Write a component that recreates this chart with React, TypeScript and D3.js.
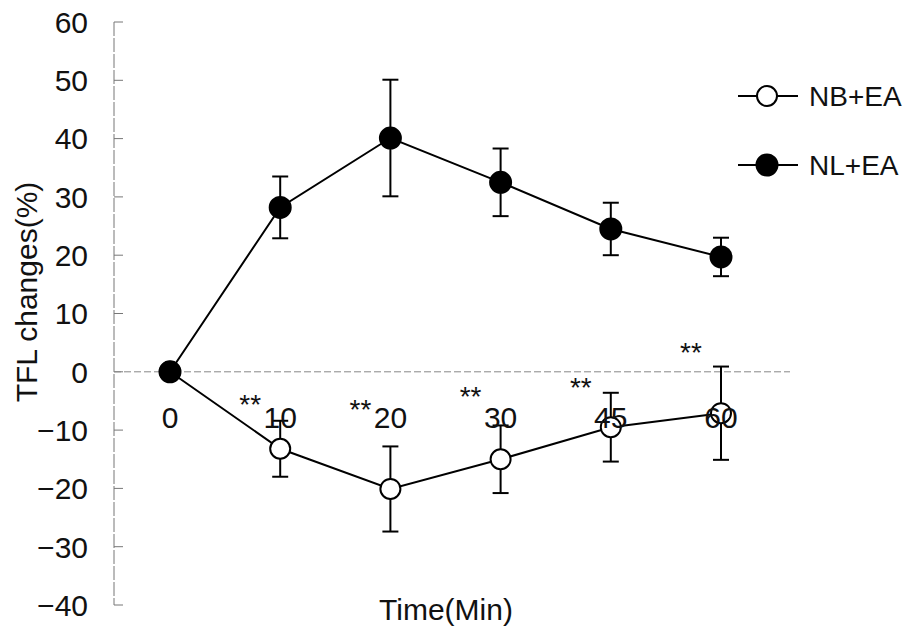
import * as d3 from 'd3';
import React from 'react';
import { useEffect, useRef } from 'react';

// time points (categorical on the x axis)
const times = ['0', '10', '20', '30', '45', '60'];

// NB+EA (open circles)
const nbMean = [0, -13.2, -20.1, -15.0, -9.5, -7.1];
const nbErr = [0, 4.8, 7.3, 5.8, 5.9, 8.0];

// NL+EA (filled circles)
const nlMean = [0, 28.2, 40.1, 32.5, 24.5, 19.7];
const nlErr = [0, 5.3, 10.0, 5.8, 4.5, 3.3];

// significance marks, placed just left of each time point
const starTimes = ['10', '20', '30', '45', '60'];
const starLevels = [-4.5, -5.4, -3.1, -1.6, 4.4];

const yTicks = [60, 50, 40, 30, 20, 10, 0, -10, -20, -30, -40];

const FONT = '"Liberation Sans", Arial, sans-serif';

export default function App() {
    const ref = useRef<any>();

    useEffect(() => {
        const svg = d3.select<any, any>(ref.current);
        svg.selectAll('*').remove();

        const xScale = d3.scalePoint<string>().domain(times).range([170, 721]);
        const yScale = d3.scaleLinear().domain([-40, 60]).range([605, 22]);
        const axisX = 114;

        //y axis line + ticks
        svg.append('line')
            .attr('x1', axisX).attr('x2', axisX)
            .attr('y1', yScale(60)).attr('y2', yScale(-40))
            .attr('stroke', '#777').attr('stroke-width', 1)
            .attr('stroke-dasharray', '14,2');

        svg.selectAll('.ytick').data(yTicks).join('line')
            .attr('class', 'ytick')
            .attr('x1', axisX).attr('x2', axisX + 9)
            .attr('y1', (d: any) => yScale(d)).attr('y2', (d: any) => yScale(d))
            .attr('stroke', '#777').attr('stroke-width', 1);

        svg.selectAll('.ylabel').data(yTicks).join('text')
            .attr('class', 'ylabel')
            .attr('x', 88)
            .attr('y', (d: any) => yScale(d))
            .attr('dy', '0.36em')
            .attr('text-anchor', 'end')
            .attr('font-family', FONT)
            .attr('font-size', 30)
            .attr('fill', '#111')
            .text((d: any) => (d < 0 ? '\u2212' + Math.abs(d) : String(d)));

        //zero line
        svg.append('line')
            .attr('x1', axisX).attr('x2', 790)
            .attr('y1', yScale(0)).attr('y2', yScale(0))
            .attr('stroke', '#888').attr('stroke-width', 1)
            .attr('stroke-dasharray', '7,3');

        const line = d3.line<number>()
            .x((d, i) => xScale(times[i]) as number)
            .y((d) => yScale(d));

        const drawSeries = (mean: number[], err: number[]) => {
            svg.append('path')
                .attr('d', line(mean) as string)
                .attr('fill', 'none')
                .attr('stroke', '#000')
                .attr('stroke-width', 2);

            const idx = d3.range(mean.length).filter((i) => err[i] > 0);
            const g = svg.append('g');
            idx.forEach((i) => {
                const x = xScale(times[i]) as number;
                const top = yScale(mean[i] + err[i]);
                const bot = yScale(mean[i] - err[i]);
                g.append('line').attr('x1', x).attr('x2', x).attr('y1', top).attr('y2', bot)
                    .attr('stroke', '#000').attr('stroke-width', 2);
                g.append('line').attr('x1', x - 8).attr('x2', x + 8).attr('y1', top).attr('y2', top)
                    .attr('stroke', '#000').attr('stroke-width', 2);
                g.append('line').attr('x1', x - 8).attr('x2', x + 8).attr('y1', bot).attr('y2', bot)
                    .attr('stroke', '#000').attr('stroke-width', 2);
            });
        };

        const drawMarkers = (mean: number[], filled: boolean) => {
            svg.append('g').selectAll('circle').data(mean).join('circle')
                .attr('cx', (d: any, i: number) => xScale(times[i]) as number)
                .attr('cy', (d: any) => yScale(d))
                .attr('r', filled ? 10.5 : 10)
                .attr('fill', filled ? '#000' : '#fff')
                .attr('stroke', '#000')
                .attr('stroke-width', 2);
        };

        drawSeries(nbMean, nbErr);
        drawSeries(nlMean, nlErr);
        drawMarkers(nbMean, false);
        drawMarkers(nlMean, true);

        //significance stars
        svg.selectAll('.star').data(starTimes).join('text')
            .attr('class', 'star')
            .attr('x', (d: any) => (xScale(d) as number) - 30)
            .attr('y', (d: any, i: number) => yScale(starLevels[i]))
            .attr('dy', '0.57em')
            .attr('text-anchor', 'middle')
            .attr('font-family', FONT)
            .attr('font-size', 28)
            .attr('fill', '#111')
            .text('**');

        //x tick labels (drawn over the marks)
        svg.selectAll('.xlabel').data(times).join('text')
            .attr('class', 'xlabel')
            .attr('x', (d: any) => xScale(d) as number)
            .attr('y', 428)
            .attr('text-anchor', 'middle')
            .attr('font-family', FONT)
            .attr('font-size', 30)
            .attr('fill', '#111')
            .text((d: any) => d);

        //axis titles
        svg.append('text')
            .attr('transform', 'translate(37,292) rotate(-90)')
            .attr('text-anchor', 'middle')
            .attr('font-family', FONT)
            .attr('font-size', 30)
            .attr('fill', '#111')
            .text('TFL changes(%)');

        svg.append('text')
            .attr('x', 446).attr('y', 620)
            .attr('text-anchor', 'middle')
            .attr('font-family', FONT)
            .attr('font-size', 30)
            .attr('fill', '#111')
            .text('Time(Min)');

        //legend
        const legend = [
            { name: 'NB+EA', filled: false, y: 96 },
            { name: 'NL+EA', filled: true, y: 165 },
        ];
        legend.forEach((l) => {
            svg.append('line')
                .attr('x1', 738).attr('x2', 798).attr('y1', l.y).attr('y2', l.y)
                .attr('stroke', '#000').attr('stroke-width', 2);
            svg.append('circle')
                .attr('cx', 767).attr('cy', l.y).attr('r', l.filled ? 10.5 : 10)
                .attr('fill', l.filled ? '#000' : '#fff')
                .attr('stroke', '#000').attr('stroke-width', 2);
            svg.append('text')
                .attr('x', 809).attr('y', l.y).attr('dy', '0.36em')
                .attr('font-family', FONT)
                .attr('font-size', 28)
                .attr('fill', '#111')
                .text(l.name);
        });
    }, []);

    return (
        <svg
            ref={ref}
            width={908}
            height={634}
            style={{ position: 'absolute', left: 0, top: 0, background: '#fff' }}
        ></svg>
    );
}
